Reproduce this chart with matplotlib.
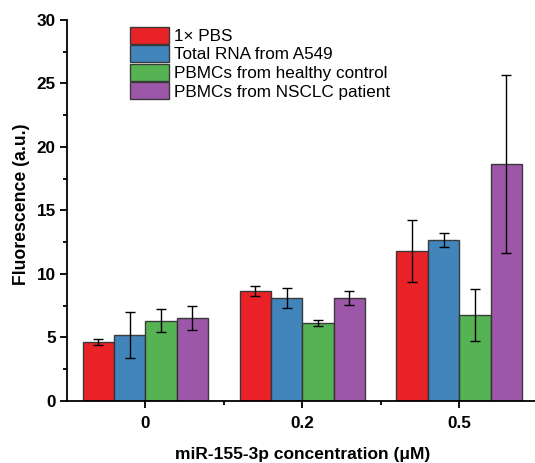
import matplotlib
matplotlib.use("Agg")
import matplotlib.pyplot as plt
import numpy as np
from matplotlib.ticker import MultipleLocator, FixedLocator

plt.rcParams['font.family'] = ['Liberation Sans', 'DejaVu Sans']

categories = ["0", "0.2", "0.5"]
series = ["1× PBS", "Total RNA from A549", "PBMCs from healthy control", "PBMCs from NSCLC patient"]
values = [
    [4.62, 8.66, 11.81],
    [5.22, 8.11, 12.68],
    [6.32, 6.17, 6.75],
    [6.54, 8.11, 18.66],
]
errors = [
    [0.22, 0.42, 2.44],
    [1.80, 0.80, 0.55],
    [0.90, 0.23, 2.05],
    [0.92, 0.53, 7.00],
]
colors = ["#E8161C", "#377EB8", "#4DAF4A", "#984EA3"]

fig = plt.figure(figsize=(5.35, 4.63), dpi=100)
ax = fig.add_axes([0.125, 0.134, 0.880, 0.823])

x = np.arange(len(categories))
w = 0.2
for i, (name, vals, errs, c) in enumerate(zip(series, values, errors, colors)):
    pos = x + (i - 1.5) * w
    ax.bar(pos, vals, width=w, color=c, edgecolor="#333333", linewidth=1.0,
           label=name, alpha=0.95, zorder=2)
    ax.errorbar(pos, vals, yerr=errs, fmt="none", ecolor="black",
                elinewidth=1.0, capsize=3.5, capthick=1.0, zorder=3)

ax.set_xlim(-0.5, 2.5)
ax.set_ylim(0, 30)
ax.set_xticks(x)
ax.set_xticklabels(categories)
ax.xaxis.set_minor_locator(FixedLocator([0.5, 1.5]))
ax.yaxis.set_major_locator(MultipleLocator(5))
ax.yaxis.set_minor_locator(MultipleLocator(2.5))
for s in ["top", "right"]:
    ax.spines[s].set_visible(False)
for s in ["left", "bottom"]:
    ax.spines[s].set_linewidth(1.3)
ax.tick_params(axis="both", which="major", direction="out", length=5, width=1.3, labelsize=12.3)
ax.tick_params(axis="both", which="minor", direction="out", length=3, width=1.3)
ax.tick_params(axis="x", which="major", pad=5.5)
ax.tick_params(axis="y", which="major", pad=3)
for lab in ax.get_xticklabels() + ax.get_yticklabels():
    lab.set_fontweight("bold")

ax.set_ylabel("Fluorescence (a.u.)", fontsize=12.7, fontweight="bold")
ax.set_xlabel("miR-155-3p concentration (μM)", fontsize=12.5, fontweight="bold")
ax.yaxis.set_label_coords(-0.079, 0.517)
ax.xaxis.set_label_coords(0.501, -0.121)

leg = ax.legend(loc="upper left", bbox_to_anchor=(0.115, 1.005), frameon=False, fontsize=12.3,
                handlelength=2.28, handleheight=1.15, handletextpad=0.3, labelspacing=0.08,
                borderaxespad=0.1)

fig.savefig("out.png", dpi=100)
